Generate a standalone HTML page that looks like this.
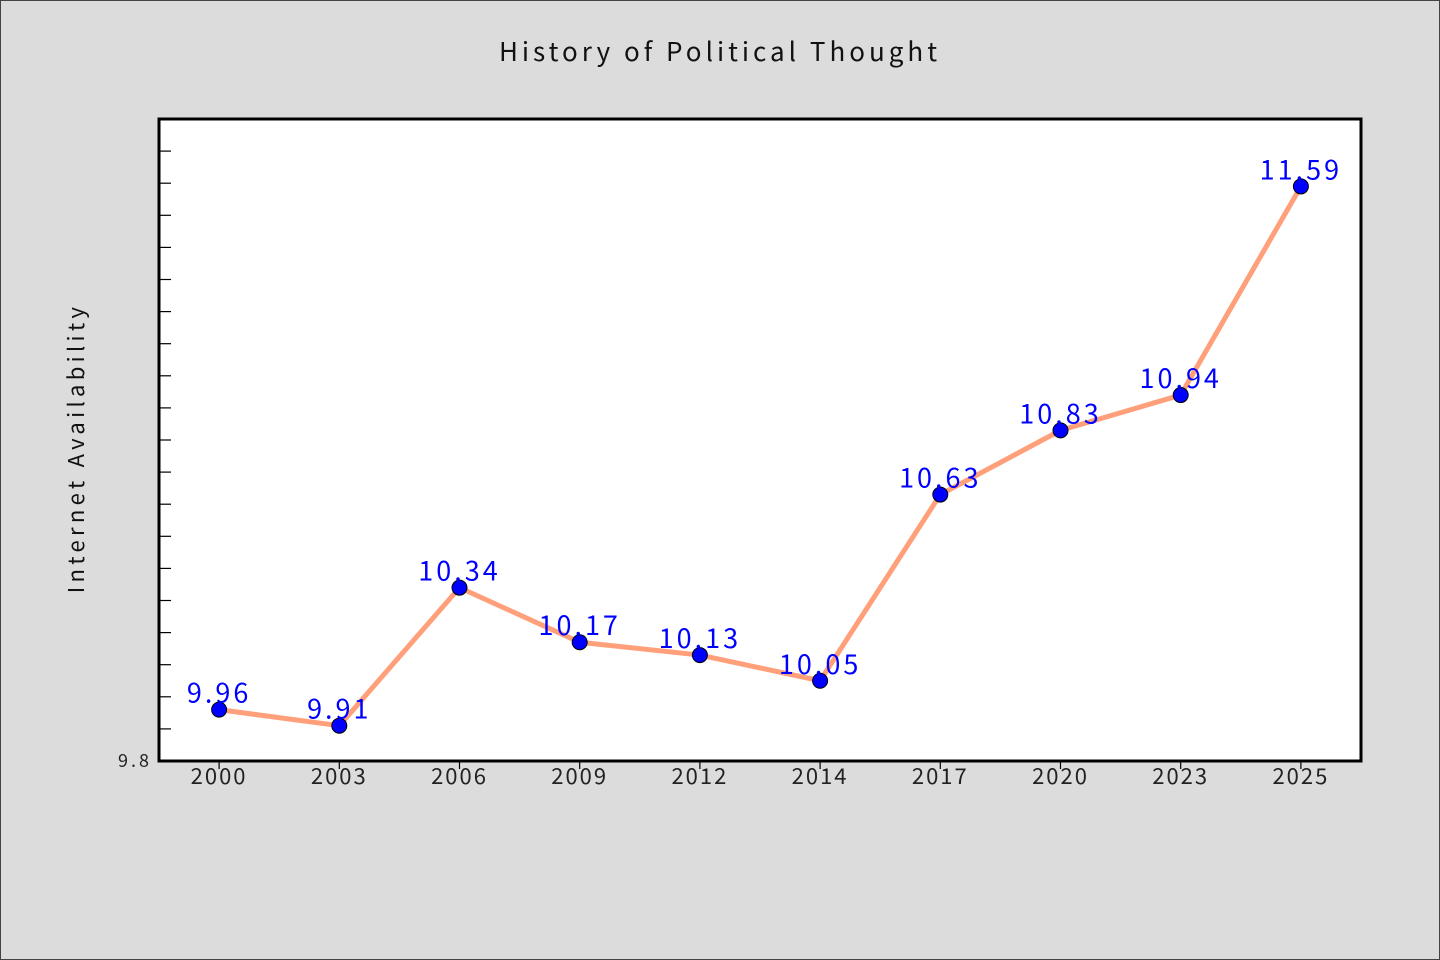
<!DOCTYPE html>
<html><head><meta charset="utf-8"><style>
html,body{margin:0;padding:0;background:#dcdcdc;}
svg{display:block;font-family:"WenQuanYi Zen Hei","Noto Sans CJK SC",sans-serif;}
</style></head><body>
<svg id="chart" width="1440" height="960" viewBox="0 0 1440 960" xmlns="http://www.w3.org/2000/svg">
<rect x="0.5" y="0.5" width="1439" height="959" fill="#dcdcdc" stroke="#444"/>
<text x="720" y="61" text-anchor="middle" font-size="26" letter-spacing="4" fill="#111">History of Political Thought</text>
<rect x="159" y="119" width="1202" height="642" fill="#fff"/>
<g id="ticks"></g>
<g id="series"></g>
<rect x="159" y="119" width="1202" height="642" fill="none" stroke="#000" stroke-width="3"/>
<text transform="translate(84,448) rotate(-90)" text-anchor="middle" font-size="22" letter-spacing="4.3" fill="#111">Internet Availability</text>
</svg>
<script>
const categories=["2000","2003","2006","2009","2012","2014","2017","2020","2023","2025"];
const values=[9.96,9.91,10.34,10.17,10.13,10.05,10.63,10.83,10.94,11.59];
const yTickLabels=["9.8"];
const yMin=9.8,yMax=11.8,yStep=0.1;
const NS="http://www.w3.org/2000/svg";
const L=159,R=1361,T=119,B=761;
const band=(R-L)/categories.length;
function xPos(i){return L+band*(i+0.5);}
function yPos(v){return B-(v-yMin)/(yMax-yMin)*(B-T);}
function mk(tag,attrs,parent){const e=document.createElementNS(NS,tag);for(const k in attrs)e.setAttribute(k,attrs[k]);parent.appendChild(e);return e;}
const tg=document.getElementById('ticks');
const nT=Math.round((yMax-yMin)/yStep);
for(let i=0;i<nT;i++){
  const y=yPos(yMin+i*yStep);
  const t=mk('line',{x1:L,x2:L+12,y1:y,y2:y,stroke:'#000','stroke-width':1.2},tg);
  
  
}
yTickLabels.forEach(s=>{
  const t=mk('text',{x:152,y:yPos(parseFloat(s))+6,'text-anchor':'end','font-size':18,'letter-spacing':3,fill:'#222'},tg);
  t.textContent=s;
  
  
});
categories.forEach((c,i)=>{
  const x=xPos(i);
  const tk=mk('line',{x1:x,x2:x,y1:B,y2:B+8,stroke:'#000','stroke-width':1.2},tg);
  
  
  const t=mk('text',{x:x,y:B+23,'text-anchor':'middle','font-size':22,'letter-spacing':2,fill:'#222'},tg);
  t.textContent=c;
  
  
});
const sg=document.getElementById('series');
const pts=values.map((v,i)=>xPos(i)+','+yPos(v)).join(' ');
const line=mk('polyline',{points:pts,fill:'none',stroke:'#ffa07a','stroke-width':5,'stroke-linejoin':'round'},sg);


values.forEach((v,i)=>{
  const c=mk('circle',{cx:xPos(i),cy:yPos(v),r:7.5,fill:'#0000ff',stroke:'#000','stroke-width':1},sg);
  
  
});
values.forEach((v,i)=>{
  const t=mk('text',{x:xPos(i),y:yPos(v)-7,'text-anchor':'middle','font-size':27,'letter-spacing':3,fill:'#0000ff'},sg);
  t.textContent=v.toFixed(2);
  
  
});
</script>
</body></html>
